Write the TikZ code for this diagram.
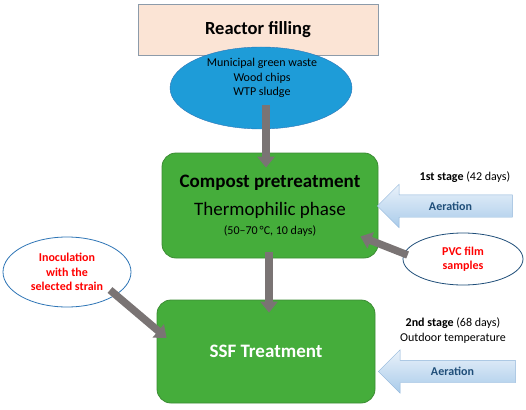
\documentclass[tikz,border=0pt]{standalone}
\usepackage{fontspec}
\setmainfont{Carlito}
\usepackage{tikz}
\usetikzlibrary{shapes.geometric,shapes.arrows,arrows.meta}
\definecolor{pesca}{HTML}{FBE4D5}
\definecolor{bordogrigio}{HTML}{8C9BAA}
\definecolor{azzurro}{HTML}{1E9CD8}
\definecolor{blu}{HTML}{2E75B6}
\definecolor{blunotte}{HTML}{1F4E79}
\definecolor{verde}{HTML}{45AD3B}
\definecolor{verdescuro}{HTML}{3B8C33}
\definecolor{grigio}{HTML}{7A7474}
\definecolor{rosso}{HTML}{FF0000}
\definecolor{cielo}{HTML}{EAF2FA}
\definecolor{cielo2}{HTML}{A9CBEA}
\definecolor{cielobordo}{HTML}{8FB4D9}

\begin{document}
\begin{tikzpicture}[
      x=1pt, y=-1pt,
      every node/.style={align=center, inner sep=0pt, font=\fontsize{12}{14.5}\selectfont},
      fase/.style={rectangle, rounded corners=14pt, draw=verdescuro, fill=verde, line width=0.8pt},
      bolla/.style={ellipse, draw=blu, fill=white, line width=0.8pt, text=rosso, font=\bfseries\fontsize{12}{14.5}\selectfont},
      aria/.style={single arrow, shape border rotate=180, single arrow head extend=10.5pt,
        text height=8pt, text depth=0pt, inner ysep=7pt, draw=cielobordo, top color=cielo, bottom color=cielo2,
        text=blunotte, font=\bfseries\fontsize{12}{13}\selectfont},
      freccia/.style={draw=grigio, line width=7.5pt, -{Triangle[length=11pt,width=17pt]}}
    ]
    \useasboundingbox (0,0) rectangle (526,409);
    % Riempimento
    \node[rectangle, draw=bordogrigio, fill=pesca, minimum width=240pt, minimum height=51pt,
      font=\bfseries\fontsize{18.5}{20}\selectfont] (filling) at (258,29.5) {Reactor filling};
    \node[ellipse, draw=blu, fill=azzurro, minimum width=182pt, minimum height=82pt] (waste) at (261,88) {};
    \node (wastetext) at (262,78) {Municipal green waste\\Wood chips\\WTP sludge};
    % Fasi
    \node[fase, minimum width=216pt, minimum height=105pt] (compost) at (270,205.5)
      {\bfseries\fontsize{19}{12}\selectfont Compost pretreatment\\[10.5pt]
       \fontsize{19}{12}\selectfont Thermophilic phase\\[4.5pt]
       \fontsize{12}{12}\selectfont (50--70\,°C, 10 days)};
    \node[fase, minimum width=218pt, minimum height=103pt, text=white,
      font=\bfseries\fontsize{19}{21}\selectfont] (ssf) at (266,351.5) {SSF Treatment};
    % Aggiunte
    \node[bolla, minimum width=128pt, minimum height=70pt] (inoc) at (67,272) {Inoculation\\with the\\selected strain};
    \node[bolla, draw=blunotte, minimum width=120pt, minimum height=52pt] (pvc) at (463,259) {PVC film\\samples};
    % Aerazione
    \node (stage1) at (465,177) {\textbf{1st stage} (42 days)};
    \node[aria, minimum height=135pt] (aer1) at (450.5,206) {Aeration};
    \node (stage2) at (453,330.5) {\textbf{2nd stage} (68 days)\\Outdoor temperature};
    \node[aria, minimum height=137pt] (aer2) at (452.5,371.5) {Aeration};
    % Frecce
    \draw[freccia, shorten <=-24pt, shorten >=-15pt] ([xshift=5pt]waste.south) -- ([xshift=-4pt]compost.north);
    \draw[freccia, shorten <=-6pt, shorten >=-13pt] ([xshift=-1pt]compost.south) -- ([xshift=3pt]ssf.north);
    \draw[freccia] ([xshift=5pt,yshift=4pt]pvc.west) -- ([xshift=-18pt,yshift=22pt]compost.south east);
    \draw[freccia] ([xshift=43pt,yshift=-18pt]inoc.center) -- ([xshift=10pt,yshift=13.5pt]ssf.west);
  \end{tikzpicture}
\end{document}
